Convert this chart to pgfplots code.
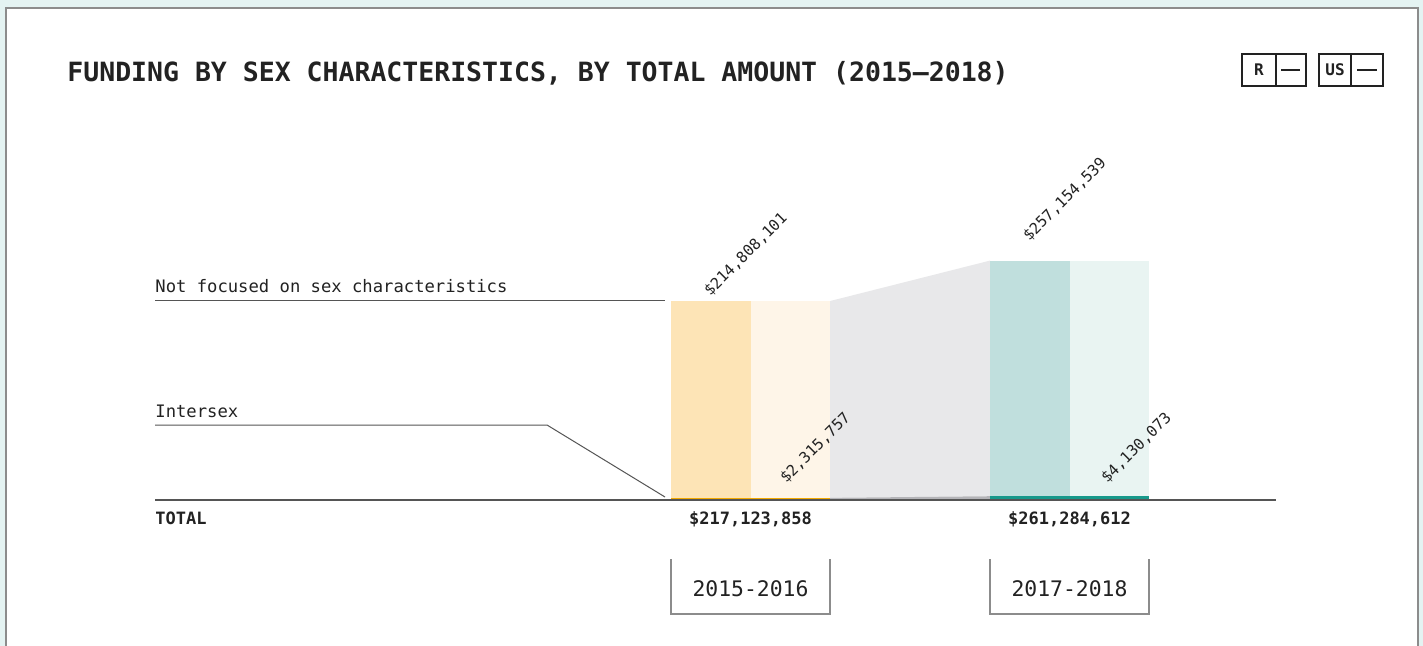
\documentclass[border=0pt]{standalone}
\usepackage{fontspec}
\setmainfont{DejaVu Sans Mono}
\usepackage{pgfplots}
\pgfplotsset{compat=1.18}

\definecolor{mint}{HTML}{E4F3F2}
\definecolor{panelgray}{HTML}{8C8C8C}
\definecolor{textdark}{HTML}{222222}
\definecolor{linegray}{HTML}{555555}
\definecolor{orDark}{HTML}{FDE4B6}
\definecolor{orLight}{HTML}{FEF5E8}
\definecolor{orStrip}{HTML}{F2A900}
\definecolor{flowGray}{HTML}{E8E8EA}
\definecolor{flowStrip}{HTML}{B4B4B8}
\definecolor{tlDark}{HTML}{C0DFDD}
\definecolor{tlLight}{HTML}{E9F4F2}
\definecolor{tlStrip}{HTML}{17998B}

\begin{document}
\begin{tikzpicture}[x=0.5pt,y=-0.5pt]
% canvas in reference pixels (1px = 0.5pt)
\path[use as bounding box] (0,0) rectangle (1423,646);
\fill[mint] (0,0) rectangle (1423,646);
\fill[white] (6,8) rectangle (1418,646);
\draw[panelgray, line width=0.75pt] (6,660) -- (6,8) -- (1418,8) -- (1418,660);

\begin{axis}[
  at={(77.5pt,-250pt)}, anchor=south west,
  width=560.5pt, height=175pt, scale only axis,
  xmin=155, xmax=1276, ymin=0, ymax=3.82e8,
  axis lines=none, clip=false, no markers
]
% 2015-2016: intersex 2,315,757 ; not focused 214,808,101 ; total 217,123,858
\addplot[fill=orDark, draw=none] coordinates {(671,2315757) (671,217123858) (751,217123858) (751,2315757)};
\addplot[fill=orLight, draw=none] coordinates {(751,2315757) (751,217123858) (830,217123858) (830,2315757)};
\addplot[fill=orStrip, draw=none] coordinates {(671,0) (671,2315757) (830,2315757) (830,0)};
% flow between periods
\addplot[fill=flowGray, draw=none] coordinates {(830,2315757) (830,217123858) (990,261284612) (990,4130073)};
\addplot[fill=flowStrip, draw=none] coordinates {(830,0) (830,2315757) (990,4130073) (990,0)};
% 2017-2018: intersex 4,130,073 ; not focused 257,154,539 ; total 261,284,612
\addplot[fill=tlDark, draw=none] coordinates {(990,4130073) (990,261284612) (1070,261284612) (1070,4130073)};
\addplot[fill=tlLight, draw=none] coordinates {(1070,4130073) (1070,261284612) (1149,261284612) (1149,4130073)};
\addplot[fill=tlStrip, draw=none] coordinates {(990,0) (990,4130073) (1149,4130073) (1149,0)};
\draw[linegray, line width=1pt] (axis cs:155,0) -- (axis cs:1276,0);
\end{axis}

% title and badges
\node[anchor=base west, inner sep=0, text=textdark, font=\bfseries\fontsize{13.25}{15}\selectfont]
  at (67,82) {FUNDING BY SEX CHARACTERISTICS, BY TOTAL AMOUNT (2015–2018)};
\draw[textdark, line width=1.4pt] (1242,54) rectangle (1306,86) (1276,54) -- (1276,86);
\draw[textdark, line width=1.4pt] (1319,54) rectangle (1383,86) (1351,54) -- (1351,86);
\draw[textdark, line width=1.4pt] (1281,70) -- (1300,70) (1357,70) -- (1377,70);
\node[text=textdark, font=\bfseries\fontsize{8}{9}\selectfont] at (1259,70) {R};
\node[text=textdark, font=\bfseries\fontsize{8}{9}\selectfont] at (1335,70) {US};

% row labels
\node[anchor=base west, inner sep=0, text=textdark, font=\fontsize{8.6}{10}\selectfont]
  at (155,293) {Not focused on sex characteristics};
\draw[linegray, line width=0.5pt] (155,301) -- (665,301);
\node[anchor=base west, inner sep=0, text=textdark, font=\fontsize{8.6}{10}\selectfont]
  at (155,417) {Intersex};
\draw[linegray, line width=0.5pt] (155,425) -- (547,425) -- (665,497);

% value labels
\begin{scope}[every node/.style={rotate=45, anchor=base west, inner sep=0, text=textdark, font=\fontsize{7.6}{9}\selectfont}]
\node at (710,297) {\$214,808,101};
\node at (786,484) {\$2,315,757};
\node at (1029,242) {\$257,154,539};
\node at (1107,484) {\$4,130,073};
\end{scope}

% totals
\node[anchor=base west, inner sep=0, text=textdark, font=\bfseries\fontsize{8.5}{10}\selectfont] at (155,524) {TOTAL};
\node[anchor=base, inner sep=0, text=textdark, font=\bfseries\fontsize{8.5}{10}\selectfont] at (750.5,524) {\$217,123,858};
\node[anchor=base, inner sep=0, text=textdark, font=\bfseries\fontsize{8.5}{10}\selectfont] at (1069.5,524) {\$261,284,612};

% period boxes
\draw[panelgray, line width=0.6pt] (671,559) -- (671,614) -- (830,614) -- (830,559);
\draw[panelgray, line width=0.6pt] (990,559) -- (990,614) -- (1149,614) -- (1149,559);
\node[anchor=base, inner sep=0, text=textdark, font=\fontsize{10.7}{12}\selectfont] at (750.5,596) {2015-2016};
\node[anchor=base, inner sep=0, text=textdark, font=\fontsize{10.7}{12}\selectfont] at (1069.5,596) {2017-2018};
\end{tikzpicture}
\end{document}
